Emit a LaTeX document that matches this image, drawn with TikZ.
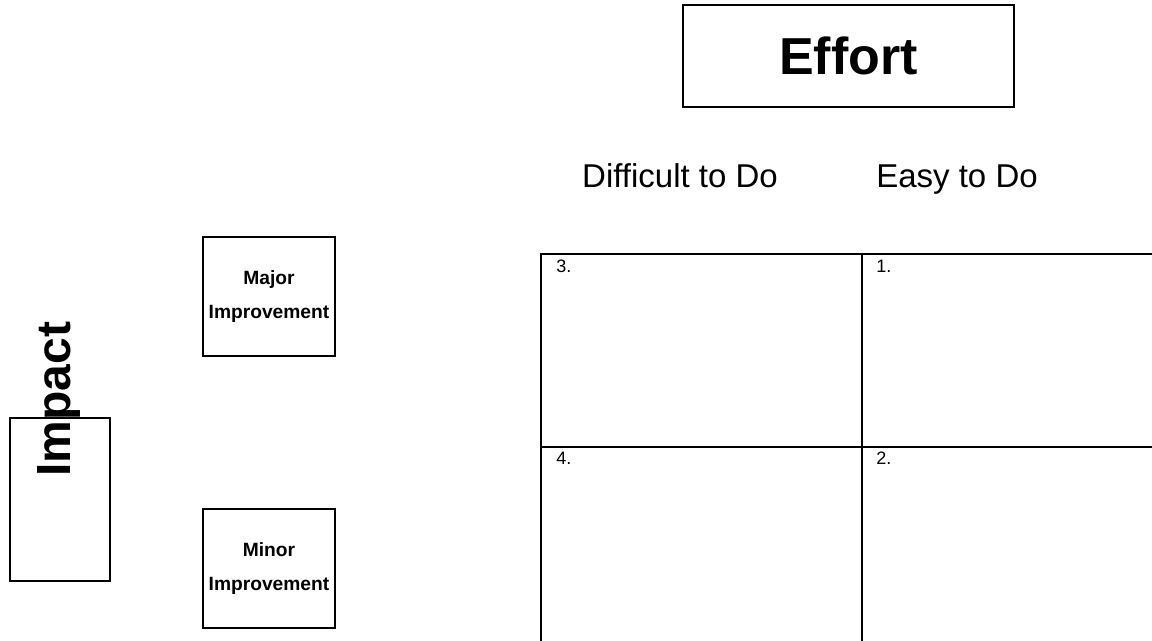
\documentclass[tikz,border=0pt]{standalone}
\usepackage{fontspec}
\setmainfont{Liberation Sans}
\begin{document}
\begin{tikzpicture}[x=0.5pt,y=-0.5pt,
  box/.style={draw,line width=0.8pt,inner sep=0pt},
  gridline/.style={line width=1.1pt},
  heading/.style={anchor=base,font=\fontsize{16.5}{20}\selectfont},
  celllabel/.style={anchor=north west,inner sep=0pt,font=\fontsize{9}{10.8}\selectfont},
  sidetext/.style={align=center,font=\bfseries\fontsize{9.6}{17}\selectfont}]
\useasboundingbox (0,0) rectangle (1152,641);
\clip (0,0) rectangle (1152,641);
% Effort
\node[box,minimum width=165.5pt,minimum height=51pt] (effort) at (848.5,56) {};
\node[font=\bfseries\fontsize{26}{30}\selectfont] (efforttext) at (effort.center) {Effort};
% column headings
\node[heading] (difficult) at (680,188) {Difficult to Do};
\node[heading] (easy) at (957,188) {Easy to Do};
% Impact
\node[box,minimum width=50pt,minimum height=81.5pt] (impact) at (60,499.5) {};
\node[rotate=90,font=\bfseries\fontsize{24}{28}\selectfont] (impacttext) at (59,399) {Impact};
% Improvement boxes
\node[box,minimum width=66pt,minimum height=59.5pt] (major) at (269,296.5) {};
\node[sidetext] (majortext) at (major.center) {Major\\Improvement};
\node[box,minimum width=66pt,minimum height=59.5pt] (minor) at (269,568.5) {};
\node[sidetext] (minortext) at (minor.center) {Minor\\Improvement};
% grid
\coordinate (tl) at (541,254);
\coordinate (tm) at (862,254);
\coordinate (ml) at (541,447);
\coordinate (mm) at (862,447);
\draw[gridline] (541,660) -- (tl) -- (1170,254);
\draw[gridline] (tm) -- (862,660);
\draw[gridline] (ml) -- (1170,447);
\node[celllabel] (c3) at (556,260) {3.};
\node[celllabel] (c1) at (876,260) {1.};
\node[celllabel] (c4) at (556,452) {4.};
\node[celllabel] (c2) at (876,452) {2.};
\end{tikzpicture}
\end{document}
